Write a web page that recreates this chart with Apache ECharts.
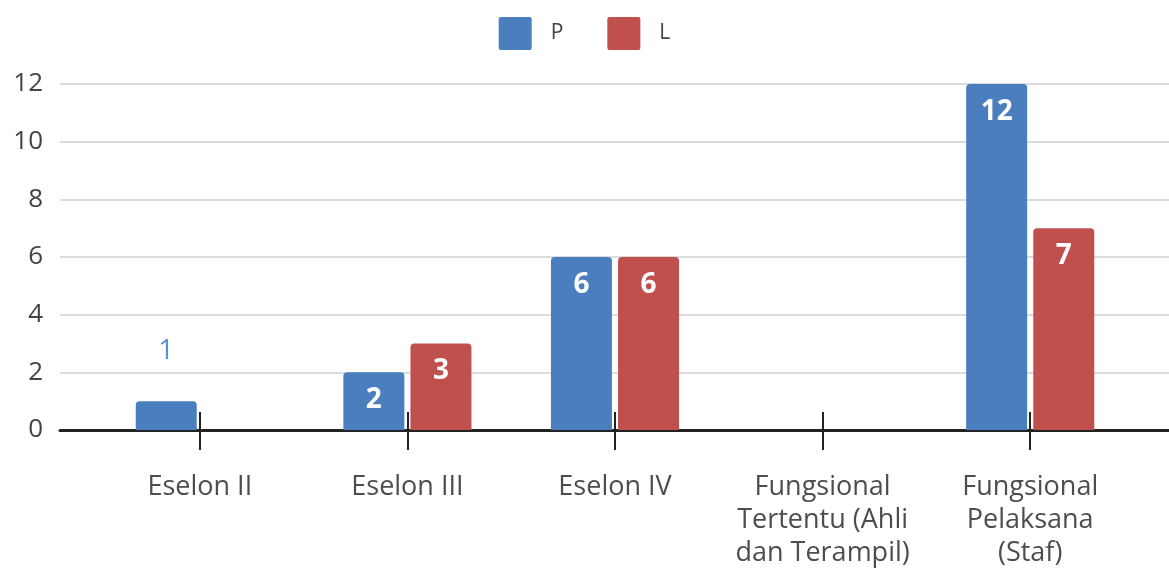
<!DOCTYPE html>
<html><head><meta charset="utf-8">
<script src="https://cdn.jsdelivr.net/npm/echarts@6/dist/echarts.min.js"></script>
<style>html,body{margin:0;padding:0;background:#fff}#c{width:1169px;height:570px}</style>
</head><body><div id="c"></div>
<script>
const categories = ['Eselon II', 'Eselon III', 'Eselon IV', 'Fungsional\nTertentu (Ahli\ndan Terampil)', 'Fungsional\nPelaksana\n(Staf)'];
const seriesNames = ['P', 'L'];
const valuesP = [1, 2, 6, 0, 12];
const valuesL = [0, 3, 6, 0, 7];
const yTicks = [0, 2, 4, 6, 8, 10, 12];

const colors = ['#4a7ebf', '#c0504d'];
const FONT = 'Open Sans';

function buildData(vals) {
  return vals.map(v => {
    if (v > 0 && v < 2) {
      return { value: v, label: { position: 'top', distance: 36, color: '#5b8fd4', fontWeight: 'normal' } };
    }
    return { value: v };
  });
}

const chart = echarts.init(document.getElementById('c'), null, { renderer: 'canvas' });
const option = {
  animation: false,
  color: colors,
  legend: {
    top: 12, left: 'center',
    itemWidth: 33, itemHeight: 33, itemGap: 44,
    icon: 'path://M2,0 L31,0 Q33,0 33,2 L33,31 Q33,33 31,33 L2,33 Q0,33 0,31 L0,2 Q0,0 2,0 Z',
    textStyle: { fontFamily: FONT, fontSize: 21, color: '#444', padding: [0, 0, 0, 14] },
    data: seriesNames
  },
  grid: [
    { left: 60, right: 0, top: 84, bottom: 140 },
    { left: 96, right: 35, top: 84, bottom: 140 }
  ],
  xAxis: [
    { gridIndex: 0, type: 'value', min: 0, max: 1, axisLine: { show: true, onZero: false, lineStyle: { color: '#222', width: 3 } },
      axisTick: { show: false }, axisLabel: { show: false }, splitLine: { show: false } },
    { gridIndex: 1, type: 'category', data: categories,
      axisLine: { show: false },
      axisTick: { show: true, alignWithLabel: true, length: 20, lineStyle: { color: '#222', width: 2 } },
      axisLabel: { fontFamily: FONT, fontSize: 27, color: '#4d4d4d', lineHeight: 33, margin: 41, interval: 0 } },
    { gridIndex: 1, type: 'category', data: categories, position: 'bottom',
      axisLine: { show: false },
      axisTick: { show: true, inside: true, alignWithLabel: true, length: 18, lineStyle: { color: '#222', width: 2 } },
      axisLabel: { show: false } }
  ],
  yAxis: [
    { gridIndex: 0, type: 'value', min: 0, max: 12, interval: 2,
      axisLine: { show: false }, axisTick: { show: false },
      axisLabel: { fontFamily: FONT, fontSize: 26, color: '#444', margin: 17, customValues: yTicks },
      splitLine: { lineStyle: { color: '#dcdcdc', width: 2 } } },
    { gridIndex: 1, type: 'value', min: 0, max: 12, interval: 2, show: false, splitLine: { show: false } }
  ],
  series: [valuesP, valuesL].map((vals, i) => ({
    name: seriesNames[i], type: 'bar', xAxisIndex: 1, yAxisIndex: 1,
    data: buildData(vals),
    barWidth: 61, barGap: '10%',
    itemStyle: { borderRadius: [4, 4, 0, 0] },
    label: {
      show: true, position: 'insideTop', distance: 14,
      fontFamily: FONT, fontSize: 28, fontWeight: 'bold', color: '#fff',
      formatter: p => (p.value === 0 ? '' : String(p.value))
    }
  }))
};
chart.setOption(option);
</script></body></html>
